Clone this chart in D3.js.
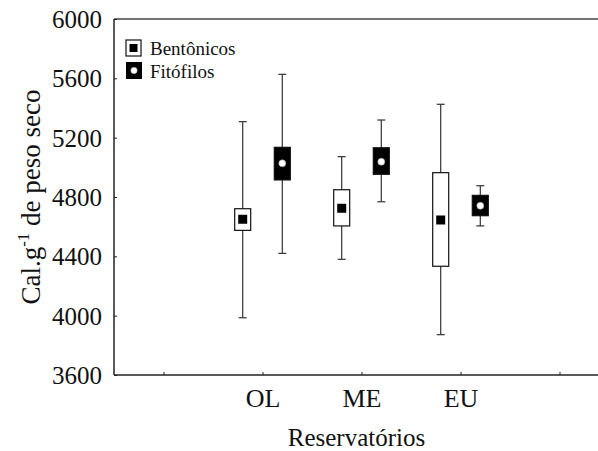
<!DOCTYPE html>
<html>
<head>
<meta charset="utf-8">
<script src="https://cdn.jsdelivr.net/npm/d3@7"></script>
<style>
  html, body { margin: 0; padding: 0; background: #fff; }
  svg { display: block; }
</style>
</head>
<body>
<svg id="chart" width="598" height="451"></svg>
<script>
// Reservoirs and their slots on the x axis
const categories = ["OL", "ME", "EU"];
const categorySlots = [2, 3, 4];
const xTickSlots = [1, 2, 3, 4, 5];
const yTicks = [3600, 4000, 4400, 4800, 5200, 5600, 6000];

// Bentônicos: mean, box (low/high), whiskers (min/max)
const bentMean = [4650, 4724, 4645];
const bentLow  = [4575, 4605, 4333];
const bentHigh = [4721, 4849, 4964];
const bentMin  = [3986, 4380, 3872];
const bentMax  = [5308, 5072, 5425];

// Fitófilos
const fitMean = [5027, 5038, 4741];
const fitLow  = [4915, 4953, 4674];
const fitHigh = [5135, 5132, 4811];
const fitMin  = [4420, 4768, 4605];
const fitMax  = [5627, 5319, 4876];

const serif = "'Liberation Serif', 'Times New Roman', serif";
const svg = d3.select("#chart");
const plotLeft = 114, plotTop = 19, plotBottom = 375, plotRight = 609;

const x = d3.scaleLinear().domain([0.5, 5.5]).range([plotLeft, plotRight]);
const y = d3.scaleLinear().domain([3600, 6000]).range([plotBottom, plotTop]);

const ink = "#222";

// Frame: left, top and bottom lines
svg.append("line").attr("x1", plotLeft).attr("x2", plotRight).attr("y1", plotTop).attr("y2", plotTop)
  .attr("stroke", "#444").attr("stroke-width", 1.5);
svg.append("line").attr("x1", plotLeft).attr("x2", plotRight).attr("y1", plotBottom).attr("y2", plotBottom)
  .attr("stroke", ink).attr("stroke-width", 1.5);
svg.append("line").attr("x1", plotLeft).attr("x2", plotLeft).attr("y1", plotTop).attr("y2", plotBottom)
  .attr("stroke", ink).attr("stroke-width", 1.5);

// Y axis (ticks pointing inward)
const yAxis = d3.axisLeft(y).tickValues(yTicks).tickFormat(d3.format("d"))
  .tickSizeInner(-3).tickSizeOuter(0).tickPadding(12);
const gy = svg.append("g").attr("transform", `translate(${plotLeft},0)`).call(yAxis);
gy.select(".domain").remove();
gy.selectAll(".tick line").attr("stroke", ink);
gy.selectAll(".tick text").attr("fill", "#111").attr("dy", "0.34em")
  .style("font-family", serif).style("font-size", "25px");

// X axis (ticks pointing inward)
const xAxis = d3.axisBottom(x).tickValues(xTickSlots).tickSizeInner(-3).tickSizeOuter(0)
  .tickFormat(d => { const i = categorySlots.indexOf(d); return i >= 0 ? categories[i] : ""; })
  .tickPadding(14);
const gx = svg.append("g").attr("transform", `translate(0,${plotBottom})`).call(xAxis);
gx.select(".domain").remove();
gx.selectAll(".tick line").attr("stroke", ink);
gx.selectAll(".tick text").attr("fill", "#111").attr("dy", "0.71em")
  .style("font-family", serif).style("font-size", "26px");

// Axis titles
svg.append("text").attr("x", (plotLeft + 598) / 2 + 0.5).attr("y", 446)
  .attr("text-anchor", "middle").attr("fill", "#111")
  .style("font-family", serif).style("font-size", "25px")
  .text("Reservatórios");

const yt = svg.append("text")
  .attr("transform", `translate(40,${(plotTop + plotBottom) / 2}) rotate(-90)`)
  .attr("text-anchor", "middle").attr("fill", "#111")
  .style("font-family", serif).style("font-size", "27px");
yt.append("tspan").text("Cal.g");
yt.append("tspan").style("font-size", "17px").attr("dy", -11).text("-1");
yt.append("tspan").attr("dy", 11).text(" de peso seco");

const offset = 0.2, boxW = 16, capW = 8;

function drawGroup(mean, low, high, min, max, dir, filled) {
  const g = svg.append("g");
  categories.forEach((c, i) => {
    const cx = x(categorySlots[i] + dir * offset);
    // whisker line
    g.append("line").attr("x1", cx).attr("x2", cx).attr("y1", y(max[i])).attr("y2", y(min[i]))
      .attr("stroke", "#333").attr("stroke-width", 1.2);
    [min[i], max[i]].forEach(v => {
      g.append("line").attr("x1", cx - capW / 2).attr("x2", cx + capW / 2)
        .attr("y1", y(v)).attr("y2", y(v)).attr("stroke", "#333").attr("stroke-width", 1.2);
    });
    // box
    g.append("rect").attr("x", cx - boxW / 2).attr("y", y(high[i]))
      .attr("width", boxW).attr("height", y(low[i]) - y(high[i]))
      .attr("fill", filled ? "#000" : "#fff").attr("stroke", "#111").attr("stroke-width", 1.2);
    // mean marker
    if (filled) {
      g.append("circle").attr("cx", cx).attr("cy", y(mean[i])).attr("r", 3.5)
        .attr("fill", "#fff").attr("stroke", "#999").attr("stroke-width", 0.6);
    } else {
      g.append("rect").attr("x", cx - 4.5).attr("y", y(mean[i]) - 4.5)
        .attr("width", 9).attr("height", 9).attr("fill", "#000");
    }
  });
}

drawGroup(bentMean, bentLow, bentHigh, bentMin, bentMax, -1, false);
drawGroup(fitMean, fitLow, fitHigh, fitMin, fitMax, 1, true);

// Legend
const lg = svg.append("g");
lg.append("rect").attr("x", 126).attr("y", 40).attr("width", 15).attr("height", 16)
  .attr("fill", "#fff").attr("stroke", "#111").attr("stroke-width", 1.2);
lg.append("rect").attr("x", 129.5).attr("y", 44).attr("width", 8).attr("height", 8).attr("fill", "#000");
lg.append("text").attr("x", 150).attr("y", 55).attr("fill", "#111")
  .style("font-family", serif).style("font-size", "19px").text("Bentônicos");

lg.append("rect").attr("x", 126).attr("y", 62).attr("width", 16).attr("height", 17).attr("fill", "#000");
lg.append("circle").attr("cx", 134).attr("cy", 70.5).attr("r", 3.2)
  .attr("fill", "#fff").attr("stroke", "#999").attr("stroke-width", 0.6);
lg.append("text").attr("x", 150).attr("y", 78).attr("fill", "#111")
  .style("font-family", serif).style("font-size", "19px").text("Fitófilos");
</script>
</body>
</html>
